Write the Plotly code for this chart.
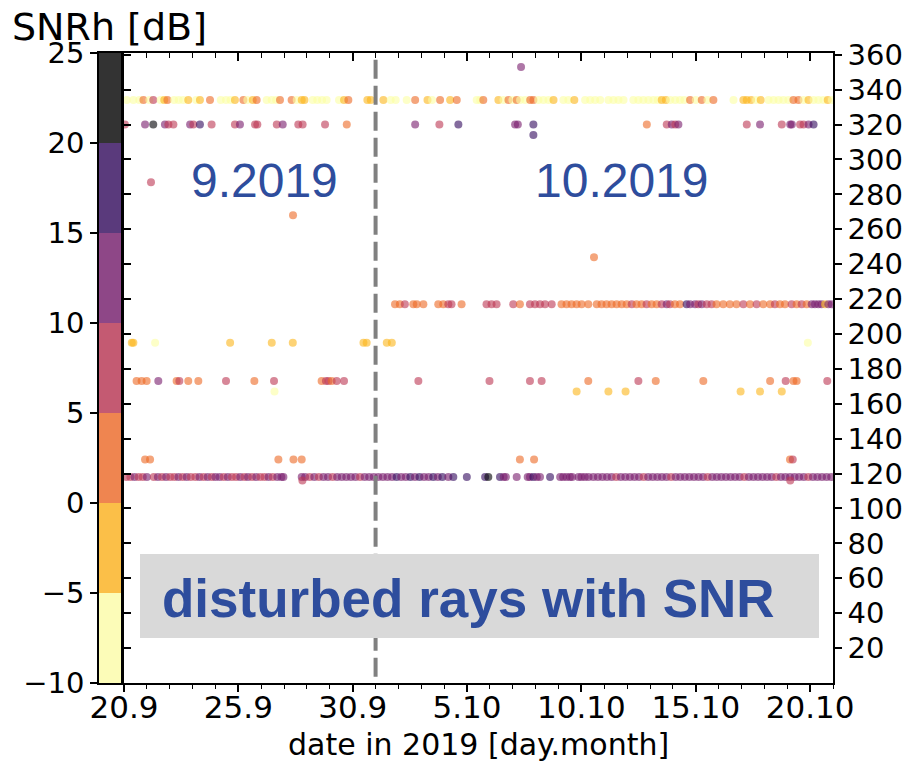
import pandas as pd
import plotly.graph_objects as go

# ---------------- data ----------------
START = "2019-09-20"
END = "2019-10-21"
DIVIDER = "2019-10-01"

snr_bounds = [-10, -5, 0, 5, 10, 15, 20, 25]
bin_colors = ["#FCFFA4", "#FBB61A", "#ED6925", "#BC3754", "#781C6D", "#320A5E", "#000004"]
bar_colors = ["#FCFCB8", "#FBBF48", "#EF8550", "#C45A72", "#8E4787", "#5A3A7C", "#333333"]
right_ticks = [20, 40, 60, 80, 100, 120, 140, 160, 180, 200, 220, 240, 260, 280, 300, 320, 340, 360]
cbar_ticks = [-10, -5, 0, 5, 10, 15, 20, 25]
cbar_ticktext = ["\u221210", "\u22125", "0", "5", "10", "15", "20", "25"]

# days after 20.9.2019 00:00 and SNRh [dB], per ray band (azimuth level)
band334_level = 334
band334_days = [0.12, 0.41, 0.67, 0.85, 1.11, 1.28, 1.60, 1.76, 1.90, 2.19, 2.39, 2.59, 2.81, 3.15, 3.32, 3.76,
                4.23, 4.46, 4.66, 4.85, 5.22, 5.39, 5.63, 5.80, 6.24, 6.46, 6.65, 6.82, 7.33, 7.55, 7.77, 7.89,
                8.25, 8.45, 8.66, 8.86, 9.40, 9.62, 9.81, 10.64, 10.79, 11.34, 11.66, 11.88, 12.36, 12.73, 13.27,
                13.47, 13.82, 14.26, 14.55, 15.42, 15.57, 15.71, 16.37, 16.59, 16.81, 16.98, 17.17, 17.32, 17.54,
                17.76, 17.90, 18.12, 18.34, 18.56, 18.78, 19.21, 19.43, 19.69, 20.16, 20.38, 20.60, 20.82, 21.18,
                21.40, 21.62, 21.84, 22.27, 22.49, 22.71, 22.93, 23.15, 23.34, 23.51, 23.69, 23.88, 24.10, 24.31,
                24.50, 24.75, 25.00, 25.26, 25.51, 25.77, 26.65, 27.08, 27.23, 27.42, 27.64, 27.84, 28.18, 28.40,
                28.62, 28.83, 29.05, 29.27, 29.49, 29.71, 29.93, 30.15, 30.36, 30.58, 30.77, 30.95]
band334_snr = [-8, -8, -7, 0, -8, 7, -7, -3, 1, -8, -7, -8, -2, -8, -4, 2,
               -8, -7, -8, -1, 3, -7, -3, 0, -8, -7, -8, 3, 4, -7, -1, -2,
               -8, -7, -8, -7, -8, -3, 0, -4, -1, -4, -8, -7, -8, 4, -3,
               -7, 1, -4, 0, -8, -8, 0, -1, -7, 1, -8, 3, -7, -8,
               0, 3, -8, -7, -6, -4, -8, -7, -3, -8, -7, -8, -7, -8,
               -7, -8, -7, -8, -7, -8, -7, -8, -7, -1, -2, -8, -7, -8,
               -7, 3, -6, 1, -7, 2, -8, -5, -3, -1, -7, -1, -8, -7,
               -8, -7, -8, 0, 2, -7, -2, -8, -7, -8, -1, -8]

band320_level = 320
band320_days = [0.04, 0.92, 1.28, 1.79, 1.94, 2.16, 2.89, 3.03, 3.32, 3.83, 4.85, 5.07, 5.73, 5.83, 6.68, 6.94,
                7.62, 7.81, 8.79, 9.74, 12.73, 13.79, 14.62, 17.10, 17.22, 17.90, 22.86, 23.73, 23.95, 24.10,
                24.24, 27.23, 27.81, 28.76, 29.13, 29.20, 29.56, 29.71, 29.93, 30.15]
band320_snr = [8, 12, 22, 10, 8, 5, 11, 8, 16, 7, 9, 14, 5, 6, 5, 12,
               5, 6, 7, 4, 11, 8, 17, 13, 14, 17, 3, 7, 10, 9,
               11, 5, 10, 5, 14, 13, 8, 8, 11, 15]

band217_level = 217
band217_days = [11.85, 12.06, 12.28, 12.65, 12.80, 13.09, 13.74, 13.96, 14.18, 14.32, 14.76, 15.85, 16.07, 16.29,
                17.02, 17.31, 17.75, 17.97, 18.19, 18.41, 18.70, 19.13, 19.35, 19.57, 19.79, 20.01, 20.30, 20.67,
                20.88, 21.10, 21.32, 21.54, 21.76, 21.98, 22.20, 22.41, 22.63, 22.85, 23.07, 23.29, 23.51, 23.73,
                23.87, 24.09, 24.31, 24.60, 24.75, 24.97, 25.11, 25.26, 25.48, 25.69, 25.91, 26.20, 26.49, 26.78,
                27.08, 27.37, 27.66, 27.95, 28.25, 28.46, 28.68, 28.90, 29.19, 29.41, 29.63, 29.85, 30.07, 30.21,
                30.36, 30.50, 30.65, 30.80, 30.94]
band217_snr = [3, 4, 5, 0, 2, 1, 0, 4, 6, 5, 3, 8, 7, 9,
               5, 4, 8, 7, 9, 6, 5, 3, 2, 4, 3, 2, 4, 2,
               3, 2, 4, 1, 3, 2, 6, 2, 4, 9, 2, 0, 6, 12,
               7, 2, 3, 15, 13, 12, 7, 11, 8, 5, 1, 3, 2, 4,
               9, 2, 7, 3, 4, 6, 2, 4, 8, 3, 6, 2, 10, 13,
               14, 11, -1, 12, 10]

band195_level = 195
band195_days = [0.34, 0.41, 1.36, 4.64, 6.46, 7.38, 10.47, 10.61, 11.49, 11.71, 29.90]
band195_snr = [-3, -3, -6, -2, -4, -4, -5, -5, -5, -2, -9]

band173_level = 173
band173_days = [0.55, 0.77, 0.99, 1.50, 2.30, 2.42, 2.81, 3.25, 4.46, 5.70, 6.56, 8.64, 8.83, 8.94, 9.08, 9.30,
                9.62, 12.87, 15.98, 17.75, 18.26, 20.30, 22.49, 23.25, 25.33, 28.25, 28.93, 29.27, 29.41, 30.75]
band173_snr = [3, 4, 4, 13, 4, 5, 2, 1, 9, 2, 8, 3, 5, 5, 4, 7,
               8, 8, 8, 8, 9, 2, 7, 2, 2, 2, 7, 2, 2, 8]

band167_level = 167
band167_days = [6.58, 19.79, 21.18, 21.93, 26.96, 27.81, 28.76]
band167_snr = [-9, -3, -3, -3, -3, -2, -3]

band128_level = 128
band128_days = [0.92, 1.14, 6.75, 7.41, 7.77, 17.31, 17.93, 29.12, 29.24]
band128_snr = [2, 3, 2, 1, 4, 2, 2, 4, 5]

band118_level = 118
band118_days = [0.10, 0.28, 0.46, 0.64, 0.82, 1.00, 1.30, 1.48, 1.66, 1.84, 2.02, 2.20, 2.38, 2.56, 2.74, 2.92,
                3.12, 3.30, 3.48, 3.66, 3.84, 4.00, 4.18, 4.36, 4.54, 4.72, 4.90, 5.08, 5.26, 5.42, 5.60, 5.78,
                5.96, 6.14, 6.32, 6.50, 6.70, 6.88, 6.97, 7.77,
                7.92, 8.12, 8.32, 8.52, 8.72, 8.92, 9.12, 9.32, 9.52, 9.72, 9.92, 10.12, 10.32, 10.52, 10.72,
                10.92, 11.12, 11.32, 11.52, 11.72, 11.92, 12.12, 12.32, 12.52, 12.72, 12.92, 13.12, 13.32, 13.52,
                13.72, 13.92, 14.18, 14.40, 14.99,
                15.79, 15.93, 16.44, 16.60, 16.70, 17.17, 17.65, 17.75, 17.90, 18.05, 18.19, 18.63, 19.07, 19.20,
                19.35, 19.50, 19.60, 19.87, 20.00, 20.15, 20.31,
                20.52, 20.72, 20.92, 21.12, 21.32, 21.52, 21.72, 21.92, 22.12, 22.32, 22.52, 22.72, 22.92, 23.12,
                23.32, 23.52, 23.72, 23.92, 24.12, 24.32, 24.52, 24.72, 24.92, 25.12, 25.32, 25.52, 25.72, 25.92,
                26.12, 26.32, 26.52, 26.72, 26.92, 27.12, 27.32, 27.52, 27.72, 27.92, 28.12, 28.32, 28.52, 28.72,
                28.92, 29.12, 29.32, 29.52, 29.72, 29.92, 30.12, 30.32, 30.52, 30.72, 30.92]
band118_snr = [9, 8, 12, 9, 7, 11, 9, 12, 8, 11, 9, 7, 12, 9, 11, 8,
               9, 12, 7, 11, 9, 10, 12, 8, 12, 9, 7, 11, 9, 12, 8, 11,
               9, 7, 12, 9, 11, 10, 14, 14,
               12, 9, 11, 8, 12, 11, 9, 12, 10, 14, 11, 12, 9, 11, 14,
               12, 13, 11, 14, 12, 16, 13, 12, 15, 13, 16, 12, 14, 17,
               13, 16, 14, 15, 17,
               16, 22, 15, 14, 13, 12, 13, 14, 15, 12, 11, 17, 12, 13,
               11, 12, 13, 12, 14, 11, 13,
               12, 13, 11, 14, 12, 9, 12, 11, 14, 13, 12, 9, 13, 12,
               14, 11, 13, 9, 14, 13, 12, 14, 13, 11, 13, 9, 14, 12,
               13, 11, 14, 12, 13, 9, 14, 11, 13, 12, 14, 13, 9, 11,
               13, 12, 14, 13, 12, 9, 12, 14, 13, 12, 14]

band116_level = 116
band116_days = [7.80, 29.13]
band116_snr = [7, 8]

outlier_days = [17.36, 17.90, 1.18, 7.39, 20.55]
outlier_level = [353, 314, 287, 268, 244]
outlier_snr = [14, 15, 8, 0, 2]

# ---------------- assemble ----------------
bands = [
    (band334_level, band334_days, band334_snr),
    (band320_level, band320_days, band320_snr),
    (band217_level, band217_days, band217_snr),
    (band195_level, band195_days, band195_snr),
    (band173_level, band173_days, band173_snr),
    (band167_level, band167_days, band167_snr),
    (band128_level, band128_days, band128_snr),
    (band118_level, band118_days, band118_snr),
    (band116_level, band116_days, band116_snr),
]
all_days, all_lvl, all_snr = [], [], []
for lvl, d, s in bands:
    all_days += d
    all_lvl += [lvl] * len(d)
    all_snr += s
all_days += outlier_days
all_lvl += outlier_level
all_snr += outlier_snr

t0 = pd.Timestamp(START)
all_x = [t0 + pd.Timedelta(days=v) for v in all_days]

n = len(bin_colors)
colorscale = []
for i, c in enumerate(bin_colors):
    colorscale.append([i / n, c])
    colorscale.append([(i + 1) / n, c])

W, H = 912, 762
px_l, px_r, px_t, px_b = 124, 833, 53, 683
xdom = [px_l / W, px_r / W]
ydom = [1 - px_b / H, 1 - px_t / H]
cb_dom = [99 / W, 121 / W]

fig = go.Figure()

fig.add_trace(go.Scatter(
    x=all_x, y=all_lvl, mode="markers", xaxis="x", yaxis="y",
    marker=dict(size=8, color=all_snr, colorscale=colorscale, cmin=snr_bounds[0], cmax=snr_bounds[-1],
                opacity=0.6, line=dict(width=0), showscale=False),
    hoverinfo="skip",
))

# colour bar drawn as stacked bars on its own axis
fig.add_trace(go.Bar(
    x=[0] * n, y=[snr_bounds[i + 1] - snr_bounds[i] for i in range(n)], base=snr_bounds[:-1],
    width=1, marker=dict(color=bar_colors, line=dict(width=0)), xaxis="x2", yaxis="y2", hoverinfo="skip",
))

# empty trace to register mirrored (inward-tick) axes
fig.add_trace(go.Scatter(x=[], y=[], xaxis="x3", yaxis="y3", mode="markers", hoverinfo="skip"))

tickfont = dict(family="DejaVu Sans", size=29, color="black")
xtickfont = dict(family="DejaVu Sans", size=31, color="black")
DAY = 86400000

fig.update_layout(
    width=W, height=H, margin=dict(l=0, r=0, t=0, b=0, autoexpand=False),
    paper_bgcolor="white", plot_bgcolor="white", showlegend=False, bargap=0,
    xaxis=dict(domain=xdom, anchor="y", type="date", range=[START, END], tick0=START, dtick=5 * DAY,
               tickformat="%-d.%-m", ticks="outside", ticklen=7, tickwidth=1.5, tickcolor="black",
               showline=True, linecolor="black", linewidth=1.5, showgrid=False, zeroline=False,
               tickfont=xtickfont, automargin=False, ticklabelstandoff=-11,
               minor=dict(ticks="outside", ticklen=4, tickwidth=1, tickcolor="black", dtick=DAY, tick0=START,
                          showgrid=False)),
    yaxis=dict(domain=ydom, anchor="x", side="right", range=[0, 361], tickvals=right_ticks,
               ticks="outside", ticklen=7, tickwidth=1.5, tickcolor="black", automargin=False,
               showline=True, linecolor="black", linewidth=1.5, showgrid=False, zeroline=False,
               tickfont=tickfont),
    xaxis3=dict(overlaying="x", anchor="y3", side="top", type="date", range=[START, END], tick0=START,
                dtick=5 * DAY, ticks="inside", ticklen=8, tickwidth=1.5, tickcolor="black", showticklabels=False,
                showline=True, linecolor="black", linewidth=1.5, showgrid=False, zeroline=False, automargin=False,
                minor=dict(ticks="inside", ticklen=5, tickwidth=1, tickcolor="black", dtick=DAY, tick0=START,
                           showgrid=False)),
    yaxis3=dict(overlaying="y", anchor="x3", side="left", range=[0, 361], tickvals=right_ticks,
                ticks="inside", ticklen=7, tickwidth=1.5, tickcolor="black", showticklabels=False,
                showline=True, linecolor="black", linewidth=1.5, showgrid=False, zeroline=False, automargin=False),
    xaxis2=dict(domain=cb_dom, anchor="y2", range=[-0.5, 0.5], showticklabels=False, ticks="",
                showline=True, linecolor="black", linewidth=1.5, mirror=True, showgrid=False, zeroline=False,
                automargin=False),
    yaxis2=dict(domain=ydom, anchor="x2", side="left", range=[snr_bounds[0], snr_bounds[-1]],
                tickvals=cbar_ticks, ticktext=cbar_ticktext, ticks="outside", ticklen=7, tickwidth=1.5,
                tickcolor="black", showline=True, linecolor="black", linewidth=1.5, mirror=True,
                showgrid=False, zeroline=False, tickfont=tickfont, automargin=False),
    shapes=[
        dict(type="line", xref="x", yref="y domain", x0=DIVIDER, x1=DIVIDER, y0=0.01, y1=0.992,
             line=dict(color="#808080", width=4, dash="19px,7px"), layer="above"),
        dict(type="rect", xref="paper", yref="paper", x0=140 / W, x1=819 / W, y0=1 - 638 / H, y1=1 - 554 / H,
             fillcolor="#D9D9D9", line=dict(width=0), layer="above"),
    ],
    annotations=[
        dict(text="SNRh [dB]", xref="paper", yref="paper", x=10 / W, y=1 - 27 / H, xanchor="left",
             yanchor="middle", showarrow=False, font=dict(family="DejaVu Sans", size=38, color="black")),
        dict(text="date in 2019 [day.month]", xref="paper", yref="paper", x=478.5 / W, y=1 - 744 / H,
             xanchor="center", yanchor="middle", showarrow=False,
             font=dict(family="DejaVu Sans", size=30, color="black")),
        dict(text="9.2019", xref="paper", yref="paper", x=264 / W, y=1 - 181 / H, xanchor="center",
             yanchor="middle", showarrow=False, font=dict(family="Liberation Sans", size=48, color="#2E4D9D")),
        dict(text="10.2019", xref="paper", yref="paper", x=622 / W, y=1 - 181 / H, xanchor="center",
             yanchor="middle", showarrow=False, font=dict(family="Liberation Sans", size=48, color="#2E4D9D")),
        dict(text="<b>disturbed rays with SNR</b>", xref="paper", yref="paper", x=468.5 / W, y=1 - 598 / H,
             xanchor="center", yanchor="middle", showarrow=False,
             font=dict(family="Liberation Sans", size=53, color="#2E4D9D")),
    ],
)

fig.write_html("out.html")
